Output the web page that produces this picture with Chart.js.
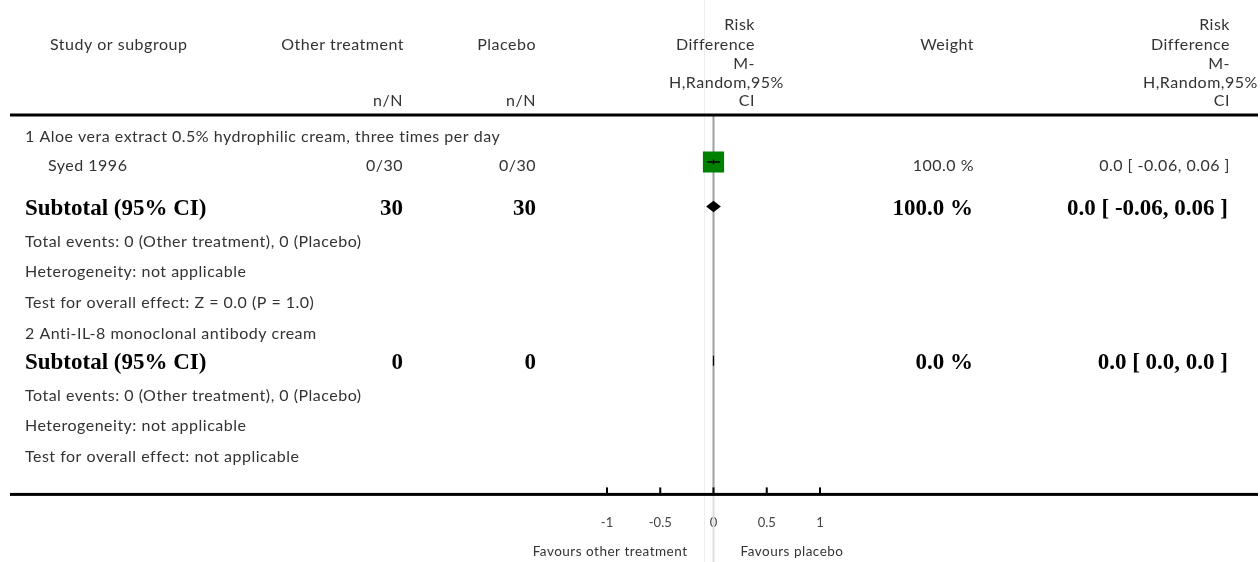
<!DOCTYPE html>
<html>
<head>
<meta charset="utf-8">
<script src="https://cdn.jsdelivr.net/npm/chart.js@4.4.0/dist/chart.umd.min.js"></script>
<style>
html,body{margin:0;padding:0;background:#ffffff;}
#wrap{width:1260px;height:562px;position:relative;}
</style>
</head>
<body>
<div id="wrap"><canvas id="c" width="1260" height="562"></canvas></div>
<script>
// ---------------- DATA ----------------
const subgroupTitles = [
  "1 Aloe vera extract 0.5% hydrophilic cream, three times per day",
  "2 Anti-IL-8 monoclonal antibody cream"
];
const studyNames = ["Syed 1996"];
const studyGroup = [0];
const studyTreatEvents = [0];
const studyTreatTotal = [30];
const studyPlaceboEvents = [0];
const studyPlaceboTotal = [30];
const studyRD = [0.0];
const studyLow = [-0.06];
const studyHigh = [0.06];
const studyWeight = [100.0];

const subtotalTreatTotal = [30, 0];
const subtotalPlaceboTotal = [30, 0];
const subtotalRD = [0.0, 0.0];
const subtotalLow = [-0.06, 0.0];
const subtotalHigh = [0.06, 0.0];
const subtotalWeight = [100.0, 0.0];

const totalEventsText = [
  "Total events: 0 (Other treatment), 0 (Placebo)",
  "Total events: 0 (Other treatment), 0 (Placebo)"
];
const heterogeneityText = ["Heterogeneity: not applicable", "Heterogeneity: not applicable"];
const overallEffectText = ["Test for overall effect: Z = 0.0 (P = 1.0)", "Test for overall effect: not applicable"];

const xTicks = [-1, -0.5, 0, 0.5, 1];
const favoursLeft = "Favours other treatment";
const favoursRight = "Favours placebo";

const headerStudy = "Study or subgroup";
const headerTreat = "Other treatment";
const headerPlacebo = "Placebo";
const headerWeight = "Weight";
const headerEffect = ["Risk", "Difference", "M-", "H,Random,95%", "CI"];
const headerNN = "n/N";

// ---------------- LAYOUT ----------------
const ROW_POS = [0.62, 1.54, 3.0, 4.07, 5.05, 6.07, 7.08, 8.05, 9.11, 10.10, 11.11];
const Y_MAX = 12.43;
const REG = "16px Lato, 'Open Sans', sans-serif";
const BOLD = "bold 23px 'Liberation Serif', 'DejaVu Serif', serif";
const SMALL = "13.5px Lato, 'Open Sans', sans-serif";
const TXT = "#333333";

const fmt = v => (v === 0 ? "0.0" : v.toFixed(2));
const ciText = (e, l, h) => fmt(e) + " [ " + fmt(l) + ", " + fmt(h) + " ]";

// Build rows from data
const rows = [];
subgroupTitles.forEach((t, g) => {
  rows.push({kind: "group", text: t});
  studyNames.forEach((n, i) => { if (studyGroup[i] === g) rows.push({kind: "study", i}); });
  rows.push({kind: "subtotal", g});
  rows.push({kind: "note", text: totalEventsText[g]});
  rows.push({kind: "note", text: heterogeneityText[g]});
  rows.push({kind: "note", text: overallEffectText[g]});
});
rows.forEach((r, k) => r.pos = ROW_POS[k]);

const studyPoints = rows.filter(r => r.kind === "study").map(r => ({x: studyRD[r.i], y: r.pos}));

function txt(ctx, s, x, y, align, font, color, spacing) {
  ctx.font = font; ctx.fillStyle = color; ctx.textAlign = align; ctx.textBaseline = "middle";
  ctx.letterSpacing = spacing || "0px";
  ctx.fillText(s, x, y);
  ctx.letterSpacing = "0px";
}
const reg = (ctx, s, x, y, align) => txt(ctx, s, x, y, align, REG, TXT, "0.5px");
const bold = (ctx, s, x, y, align) => txt(ctx, s, x, y, align, BOLD, "#000", "0px");

const forest = {
  id: "forest",
  beforeDatasetsDraw(chart) {
    const {ctx, chartArea: {top, bottom}, scales: {x}} = chart;
    const x0 = x.getPixelForValue(0);
    ctx.save();
    ctx.strokeStyle = "#eeeeee"; ctx.lineWidth = 1;
    ctx.beginPath(); ctx.moveTo(Math.round(x0) - 9.5, 0); ctx.lineTo(Math.round(x0) - 9.5, 562); ctx.stroke();
    ctx.strokeStyle = "#a0a0a0"; ctx.lineWidth = 2;
    ctx.beginPath(); ctx.moveTo(x0, top); ctx.lineTo(x0, bottom); ctx.stroke();
    ctx.strokeStyle = "#dddddd";
    ctx.beginPath(); ctx.moveTo(x0, bottom); ctx.lineTo(x0, 562); ctx.stroke();
    ctx.fillStyle = "#000";
    ctx.fillRect(10, top - 1.5, 1248, 3);
    ctx.fillRect(10, bottom - 1.5, 1248, 3);
    xTicks.forEach(v => { const px = x.getPixelForValue(v); ctx.fillRect(px - 1, bottom - 7, 2, 7); });
    ctx.restore();
  },
  afterDatasetsDraw(chart) {
    const {ctx, scales: {x, y}} = chart;
    ctx.save();
    ctx.strokeStyle = "#000"; ctx.fillStyle = "#000"; ctx.lineWidth = 1.5;
    rows.forEach(r => {
      const py = y.getPixelForValue(r.pos);
      if (r.kind === "study") {
        const a = x.getPixelForValue(studyLow[r.i]), b = x.getPixelForValue(studyHigh[r.i]);
        const m = x.getPixelForValue(studyRD[r.i]);
        ctx.lineWidth = 1.5;
        ctx.beginPath(); ctx.moveTo(a, py); ctx.lineTo(b, py); ctx.stroke();
        ctx.beginPath(); ctx.moveTo(m, py - 2.5); ctx.lineTo(m, py + 2.5); ctx.stroke();
      } else if (r.kind === "subtotal") {
        const a = x.getPixelForValue(subtotalLow[r.g]), b = x.getPixelForValue(subtotalHigh[r.g]);
        const m = x.getPixelForValue(subtotalRD[r.g]);
        ctx.beginPath();
        ctx.moveTo(a, py); ctx.lineTo(m, py - 5); ctx.lineTo(b, py); ctx.lineTo(m, py + 5); ctx.closePath();
        ctx.fill(); ctx.lineWidth = 1.2; ctx.stroke();
      }
    });
    ctx.restore();
  },
  afterDraw(chart) {
    const {ctx, scales: {x, y}} = chart;
    ctx.save();
    // headers
    reg(ctx, headerStudy, 50, 45, "left");
    reg(ctx, headerTreat, 404, 45, "right");
    reg(ctx, headerPlacebo, 536, 45, "right");
    reg(ctx, headerWeight, 974, 45, "right");
    reg(ctx, headerNN, 403, 101, "right");
    reg(ctx, headerNN, 536, 101, "right");
    const hy = [25, 45, 64, 83, 101];
    headerEffect.forEach((s, k) => {
      if (k === 3) {
        reg(ctx, s, 669, hy[k], "left");
        reg(ctx, s, 1143, hy[k], "left");
      } else {
        reg(ctx, s, 755, hy[k], "right");
        reg(ctx, s, 1230, hy[k], "right");
      }
    });
    // rows
    rows.forEach(r => {
      const py = y.getPixelForValue(r.pos);
      if (r.kind === "group" || r.kind === "note") {
        reg(ctx, r.text, 25, py + 3, "left");
      } else if (r.kind === "study") {
        const i = r.i, ty = py + 4;
        reg(ctx, studyNames[i], 48, ty, "left");
        reg(ctx, studyTreatEvents[i] + "/" + studyTreatTotal[i], 403, ty, "right");
        reg(ctx, studyPlaceboEvents[i] + "/" + studyPlaceboTotal[i], 536, ty, "right");
        reg(ctx, studyWeight[i].toFixed(1) + " %", 974, ty, "right");
        reg(ctx, ciText(studyRD[i], studyLow[i], studyHigh[i]), 1230, ty, "right");
      } else if (r.kind === "subtotal") {
        const g = r.g, ty = py + 2;
        bold(ctx, "Subtotal (95% CI)", 25, ty, "left");
        bold(ctx, String(subtotalTreatTotal[g]), 403, ty, "right");
        bold(ctx, String(subtotalPlaceboTotal[g]), 536, ty, "right");
        bold(ctx, subtotalWeight[g].toFixed(1) + " %", 973, ty, "right");
        bold(ctx, ciText(subtotalRD[g], subtotalLow[g], subtotalHigh[g]), 1228, ty, "right");
      }
    });
    const x0 = x.getPixelForValue(0);
    txt(ctx, favoursLeft, x0 - 26, 552, "right", SMALL, TXT, "0.5px");
    txt(ctx, favoursRight, x0 + 27, 552, "left", SMALL, TXT, "0.5px");
    ctx.restore();
  }
};

new Chart(document.getElementById("c"), {
  type: "scatter",
  data: {
    datasets: [{
      data: studyPoints,
      pointStyle: "rect",
      pointRadius: 15,
      pointHoverRadius: 15,
      backgroundColor: "#008000",
      borderWidth: 0
    }]
  },
  options: {
    responsive: false,
    animation: false,
    events: [],
    layout: {padding: {left: 607, right: 440, top: 115, bottom: 10}},
    plugins: {legend: {display: false}, tooltip: {enabled: false}},
    scales: {
      x: {
        type: "linear", min: -1, max: 1,
        afterBuildTicks: s => { s.ticks = xTicks.map(v => ({value: v})); },
        ticks: {font: {family: "Lato", size: 13}, color: "#444", padding: 21, maxRotation: 0,
                callback: v => String(v)},
        grid: {display: false, drawTicks: false},
        border: {display: false}
      },
      y: {
        type: "linear", min: 0, max: Y_MAX, reverse: true, display: false
      }
    }
  },
  plugins: [forest]
});
</script>
</body>
</html>
